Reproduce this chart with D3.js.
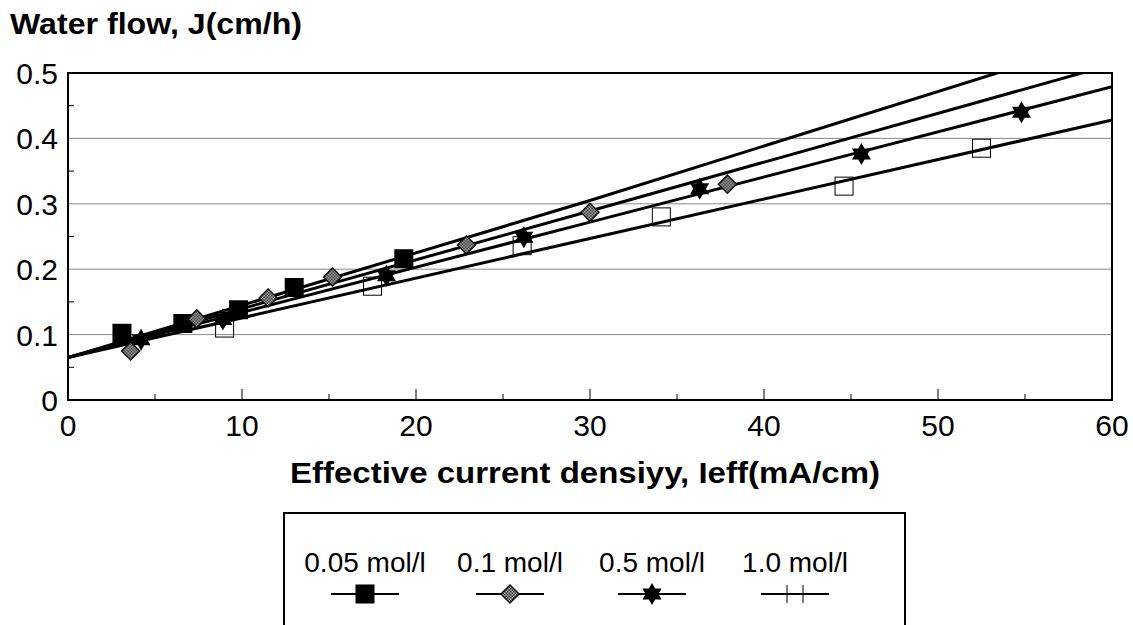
<html>
<head>
<script src="https://d3js.org/d3.v7.min.js"></script>
<style>
  body { margin: 0; background: #fff; }
  text { font-family: Arial, "Liberation Sans", sans-serif; fill: #000; }
</style>
</head>
<body>
<div id="chart"></div>
<script>
// series names
var seriesNames = ["0.05 mol/l", "0.1 mol/l", "0.5 mol/l", "1.0 mol/l"];

var x005 = [3.1, 6.6, 9.8, 13.0, 19.3];
var y005 = [0.102, 0.117, 0.138, 0.172, 0.216];
var x01 = [3.6, 7.4, 11.5, 15.2, 22.9, 30.0, 37.9];
var y01 = [0.075, 0.124, 0.156, 0.188, 0.237, 0.287, 0.330];
var x05 = [4.2, 8.9, 18.3, 26.2, 36.3, 45.6, 54.8];
var y05 = [0.092, 0.123, 0.190, 0.249, 0.323, 0.376, 0.440];
var x10 = [9.0, 17.5, 26.1, 34.1, 44.6, 52.5];
var y10 = [0.110, 0.174, 0.236, 0.280, 0.327, 0.385];

// trend lines, read at x = 0, 30, 60
var fitX = [0, 30, 60];
var fit005 = [0.065, 0.305, 0.555];
var fit01 = [0.065, 0.289, 0.513];
var fit05 = [0.065, 0.272, 0.479];
var fit10 = [0.065, 0.247, 0.428];

var xTicks = [0, 10, 20, 30, 40, 50, 60];
var yTicks = [0, 0.1, 0.2, 0.3, 0.4, 0.5];

var W = 1133, H = 625;
var m = {left: 68, top: 73, right: 1112, bottom: 400};

var svg = d3.select("#chart").append("svg")
  .attr("width", W).attr("height", H);

var defs = svg.append("defs");
var pat = defs.append("pattern").attr("id", "hatch")
  .attr("width", 3).attr("height", 3).attr("patternUnits", "userSpaceOnUse");
pat.append("rect").attr("width", 3).attr("height", 3).attr("fill", "#bbb");
pat.append("rect").attr("width", 1.5).attr("height", 1.5).attr("fill", "#222");
pat.append("rect").attr("x", 1.5).attr("y", 1.5).attr("width", 1.5).attr("height", 1.5).attr("fill", "#222");

defs.append("clipPath").attr("id", "clip").append("rect")
  .attr("x", m.left).attr("y", m.top)
  .attr("width", m.right - m.left).attr("height", m.bottom - m.top);

var x = d3.scaleLinear().domain([0, 60]).range([m.left, m.right]);
var y = d3.scaleLinear().domain([0, 0.5]).range([m.bottom, m.top]);

// gridlines
svg.append("g").selectAll("line")
  .data(yTicks.filter(function(d) { return d > 0 && d < 0.5; }))
  .enter().append("line")
  .attr("x1", m.left).attr("x2", m.right)
  .attr("y1", function(d) { return y(d); }).attr("y2", function(d) { return y(d); })
  .attr("stroke", "#888").attr("stroke-width", 1);

// inner ticks
svg.append("g").selectAll("line")
  .data(d3.range(0, 61, 5))
  .enter().append("line")
  .attr("x1", function(d) { return x(d); }).attr("x2", function(d) { return x(d); })
  .attr("y1", m.bottom)
  .attr("y2", function(d) { return d % 10 == 0 ? m.bottom - 11 : m.bottom - 6; })
  .attr("stroke", "#000").attr("stroke-width", 1);

svg.append("g").selectAll("line")
  .data(d3.range(0.05, 0.5, 0.1))
  .enter().append("line")
  .attr("x1", m.left).attr("x2", m.left + 6)
  .attr("y1", function(d) { return y(d); }).attr("y2", function(d) { return y(d); })
  .attr("stroke", "#000").attr("stroke-width", 1);

// tick labels
svg.append("g").selectAll("text")
  .data(xTicks).enter().append("text")
  .attr("x", function(d) { return x(d); })
  .attr("y", 436)
  .attr("text-anchor", "middle")
  .style("font-size", "30px")
  .text(function(d) { return d; });

svg.append("g").selectAll("text")
  .data(yTicks).enter().append("text")
  .attr("x", 58)
  .attr("y", function(d) { return y(d) + 11; })
  .attr("text-anchor", "end")
  .style("font-size", "30px")
  .text(function(d) { return d == 0 ? "0" : d.toFixed(1); });

// titles
svg.append("text")
  .attr("x", 10).attr("y", 34)
  .attr("textLength", 292).attr("lengthAdjust", "spacingAndGlyphs")
  .style("font-size", "29px").style("font-weight", "bold")
  .text("Water flow, J(cm/h)");

svg.append("text")
  .attr("x", 290).attr("y", 483)
  .attr("textLength", 590).attr("lengthAdjust", "spacingAndGlyphs")
  .style("font-size", "29px").style("font-weight", "bold")
  .text("Effective current densiyy, Ieff(mA/cm)");

// trend lines
var line = d3.line()
  .x(function(d) { return x(d[0]); })
  .y(function(d) { return y(d[1]); })
  .curve(d3.curveMonotoneX);

var fits = [fit005, fit01, fit05, fit10];
svg.append("g").attr("clip-path", "url(#clip)")
  .selectAll("path").data(fits).enter().append("path")
  .attr("d", function(f) { return line(fitX.map(function(v, i) { return [v, f[i]]; })); })
  .attr("fill", "none").attr("stroke", "#000").attr("stroke-width", 3);

// marker shapes
function hexagram(r) {
  var pts = d3.range(12).map(function(i) {
    var a = -Math.PI / 2 + i * Math.PI / 6;
    var rr = i % 2 == 0 ? r : r / Math.sqrt(3);
    return [rr * Math.cos(a), rr * Math.sin(a)];
  });
  return "M" + pts.join("L") + "Z";
}
function diamond(r) {
  return "M0," + (-r) + "L" + r + ",0L0," + r + "L" + (-r) + ",0Z";
}

function drawMarker(g, kind, cx, cy) {
  if (kind == 0) {
    g.append("rect").attr("x", cx - 9.5).attr("y", cy - 9.5)
      .attr("width", 19).attr("height", 19).attr("fill", "#000");
  } else if (kind == 1) {
    g.append("path").attr("d", diamond(9)).attr("transform", "translate(" + cx + "," + cy + ")")
      .attr("fill", "url(#hatch)").attr("stroke", "#111").attr("stroke-width", 1.5);
  } else if (kind == 2) {
    g.append("path").attr("d", hexagram(11)).attr("transform", "translate(" + cx + "," + cy + ")")
      .attr("fill", "#000");
  } else {
    g.append("rect").attr("x", cx - 9).attr("y", cy - 9)
      .attr("width", 18).attr("height", 18)
      .attr("fill", "none").attr("stroke", "#000").attr("stroke-width", 1);
  }
}

var pts = [[x005, y005], [x01, y01], [x05, y05], [x10, y10]];
var mg = svg.append("g");
[3, 0, 1, 2].forEach(function(k) {
  pts[k][0].forEach(function(v, i) {
    drawMarker(mg, k, x(v), y(pts[k][1][i]));
  });
});

// frame
svg.append("rect")
  .attr("x", m.left).attr("y", m.top)
  .attr("width", m.right - m.left).attr("height", m.bottom - m.top)
  .attr("fill", "none").attr("stroke", "#000").attr("stroke-width", 2);

// legend
svg.append("rect")
  .attr("x", 284).attr("y", 513).attr("width", 621).attr("height", 200)
  .attr("fill", "none").attr("stroke", "#000").attr("stroke-width", 2);

var legX = [365, 510, 652, 795];
var lg = svg.append("g");
seriesNames.forEach(function(name, k) {
  var cx = legX[k];
  lg.append("text").attr("x", cx).attr("y", 572)
    .attr("text-anchor", "middle").style("font-size", "28px").text(name);
  lg.append("line").attr("x1", cx - 34).attr("x2", cx + 34)
    .attr("y1", 594).attr("y2", 594).attr("stroke", "#000").attr("stroke-width", 2);
  if (k == 3) {
    [-8, 8].forEach(function(dx) {
      lg.append("line").attr("x1", cx + dx).attr("x2", cx + dx)
        .attr("y1", 585).attr("y2", 603).attr("stroke", "#000").attr("stroke-width", 1);
    });
  } else {
    drawMarker(lg, k, cx, 594);
  }
});
</script>
</body>
</html>
